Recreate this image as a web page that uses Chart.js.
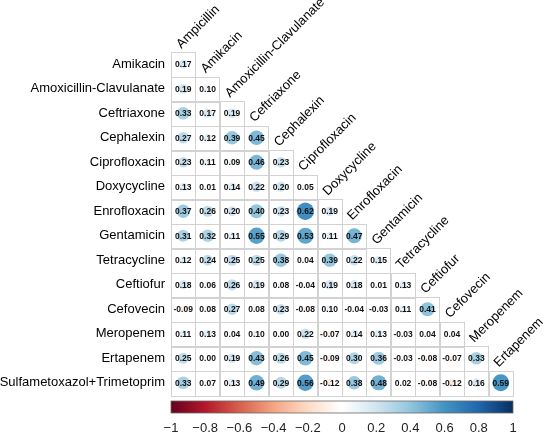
<!DOCTYPE html>
<html>
<head>
<meta charset="utf-8">
<title>Correlation matrix</title>
<script src="https://cdn.jsdelivr.net/npm/chart.js@4.4.0/dist/chart.umd.min.js"></script>
<style>
html, body { margin: 0; padding: 0; background: #fff; }
#wrap { width: 550px; height: 436px; position: relative; }
</style>
</head>
<body>
<div id="wrap"><canvas id="corrChart"></canvas></div>
<script>
// labels
const rowLabels = ['Amikacin', 'Amoxicillin-Clavulanate', 'Ceftriaxone', 'Cephalexin', 'Ciprofloxacin',
    'Doxycycline', 'Enrofloxacin', 'Gentamicin', 'Tetracycline', 'Ceftiofur', 'Cefovecin',
    'Meropenem', 'Ertapenem', 'Sulfametoxazol+Trimetoprim'];
const colLabels = ['Ampicillin', 'Amikacin', 'Amoxicillin-Clavulanate', 'Ceftriaxone', 'Cephalexin',
    'Ciprofloxacin', 'Doxycycline', 'Enrofloxacin', 'Gentamicin', 'Tetracycline', 'Ceftiofur',
    'Cefovecin', 'Meropenem', 'Ertapenem'];

// lower triangle, one array per row
const rAmikacin = [0.17];
const rAmoxClav = [0.19, 0.10];
const rCeftriaxone = [0.33, 0.17, 0.19];
const rCephalexin = [0.27, 0.12, 0.39, 0.45];
const rCipro = [0.23, 0.11, 0.09, 0.46, 0.23];
const rDoxy = [0.13, 0.01, 0.14, 0.22, 0.20, 0.05];
const rEnro = [0.37, 0.26, 0.20, 0.40, 0.23, 0.62, 0.19];
const rGenta = [0.31, 0.32, 0.11, 0.55, 0.29, 0.53, 0.11, 0.47];
const rTetra = [0.12, 0.24, 0.25, 0.25, 0.38, 0.04, 0.39, 0.22, 0.15];
const rCeftiofur = [0.18, 0.06, 0.26, 0.19, 0.08, -0.04, 0.19, 0.18, 0.01, 0.13];
const rCefovecin = [-0.09, 0.08, 0.27, 0.08, 0.23, -0.08, 0.10, -0.04, -0.03, 0.11, 0.41];
const rMeropenem = [0.11, 0.13, 0.04, 0.10, 0.00, 0.22, -0.07, 0.14, 0.13, -0.03, 0.04, 0.04];
const rErtapenem = [0.25, 0.00, 0.19, 0.43, 0.26, 0.45, -0.09, 0.30, 0.36, -0.03, -0.08, -0.07, 0.33];
const rSulfaTmp = [0.33, 0.07, 0.13, 0.49, 0.29, 0.56, -0.12, 0.38, 0.48, 0.02, -0.08, -0.12, 0.16, 0.59];

const corrRows = [rAmikacin, rAmoxClav, rCeftriaxone, rCephalexin, rCipro, rDoxy, rEnro,
    rGenta, rTetra, rCeftiofur, rCefovecin, rMeropenem, rErtapenem, rSulfaTmp];

const barTicks = [-1, -0.8, -0.6, -0.4, -0.2, 0, 0.2, 0.4, 0.6, 0.8, 1];

// RdBu palette like corrplot
const rdbu = ['#67001F', '#B2182B', '#D6604D', '#F4A582', '#FDDBC7', '#FFFFFF',
    '#D1E5F0', '#92C5DE', '#4393C3', '#2166AC', '#053061'];

function hexToRgb(h) {
    return [parseInt(h.slice(1, 3), 16), parseInt(h.slice(3, 5), 16), parseInt(h.slice(5, 7), 16)];
}

function corrColor(v) {
    const t = (Math.max(-1, Math.min(1, v)) + 1) / 2 * (rdbu.length - 1);
    const i = Math.min(Math.floor(t), rdbu.length - 2);
    const f = t - i;
    const a = hexToRgb(rdbu[i]), b = hexToRgb(rdbu[i + 1]);
    const c = a.map((x, k) => Math.round(x + (b[k] - x) * f));
    return 'rgb(' + c.join(',') + ')';
}

const points = [];
corrRows.forEach((row, i) => {
    row.forEach((v, j) => {
        points.push({ x: j + 0.5, y: i + 0.5, v: v });
    });
});

function cellSize(chart) {
    const s = chart.scales.x;
    return s.getPixelForValue(1) - s.getPixelForValue(0);
}

const corrPlugin = {
    id: 'corrPlot',
    beforeDatasetsDraw(chart) {
        const ctx = chart.ctx, xs = chart.scales.x, ys = chart.scales.y;
        ctx.save();
        ctx.strokeStyle = '#d2d2d2';
        ctx.lineWidth = 1;
        corrRows.forEach((row, i) => {
            row.forEach((v, j) => {
                const x0 = xs.getPixelForValue(j), x1 = xs.getPixelForValue(j + 1);
                const y0 = ys.getPixelForValue(i), y1 = ys.getPixelForValue(i + 1);
                ctx.strokeRect(Math.round(x0) + 0.5, Math.round(y0) + 0.5,
                    Math.round(x1 - x0), Math.round(y1 - y0));
            });
        });
        ctx.restore();
    },
    afterDatasetsDraw(chart) {
        const ctx = chart.ctx, xs = chart.scales.x, ys = chart.scales.y;
        ctx.save();

        // coefficients
        ctx.font = 'bold 8.5px "Liberation Sans", Arial, sans-serif';
        ctx.fillStyle = '#111';
        ctx.textAlign = 'center';
        ctx.textBaseline = 'middle';
        points.forEach(p => {
            ctx.fillText(p.v.toFixed(2), xs.getPixelForValue(p.x), ys.getPixelForValue(p.y) + 0.5);
        });

        // row labels
        ctx.font = '13px "Liberation Sans", Arial, sans-serif';
        ctx.fillStyle = '#000';
        ctx.textAlign = 'right';
        rowLabels.forEach((lab, i) => {
            ctx.fillText(lab, xs.getPixelForValue(0) - 6, ys.getPixelForValue(i + 0.5));
        });

        // column labels, rotated
        ctx.textAlign = 'left';
        ctx.textBaseline = 'alphabetic';
        colLabels.forEach((lab, j) => {
            const px = xs.getPixelForValue(j + 0.5) - 2;
            const py = ys.getPixelForValue(j) - 3;
            ctx.save();
            ctx.translate(px, py);
            ctx.rotate(-Math.PI / 4);
            ctx.fillText(lab, 0, 0);
            ctx.restore();
        });

        // colour bar
        const n = colLabels.length;
        const barX = v => xs.getPixelForValue((v + 1) / 2 * n);
        const left = barX(-1), right = barX(1);
        const top = ys.getPixelForValue(n) + 6, h = 12;
        const grad = ctx.createLinearGradient(left, 0, right, 0);
        rdbu.forEach((c, k) => grad.addColorStop(k / (rdbu.length - 1), c));
        ctx.fillStyle = grad;
        ctx.fillRect(left, top, right - left, h);
        ctx.strokeStyle = '#666';
        ctx.lineWidth = 0.8;
        ctx.strokeRect(left, top, right - left, h);

        ctx.fillStyle = '#222';
        ctx.font = '13px "Liberation Sans", Arial, sans-serif';
        ctx.textAlign = 'center';
        ctx.textBaseline = 'middle';
        barTicks.forEach(t => {
            const txt = (t < 0 ? '\u2212' : '') + String(Math.abs(t));
            ctx.fillText(txt, barX(t), top + h + 15);
        });
        ctx.restore();
    }
};

const corrChart = new Chart('corrChart', {
    type: 'scatter',
    data: {
        datasets: [{
            data: points,
            showLine: false,
            pointBackgroundColor: c => corrColor(c.raw ? c.raw.v : 0),
            pointBorderWidth: 0,
            pointBorderColor: 'rgba(0,0,0,0)',
            pointRadius: c => c.raw ? 0.45 * Math.sqrt(Math.abs(c.raw.v)) * cellSize(c.chart) : 0,
            pointHoverRadius: 0
        }]
    },
    options: {
        responsive: true,
        maintainAspectRatio: false,
        animation: false,
        events: [],
        layout: { padding: { top: 52, left: 171, right: 37, bottom: 41 } },
        scales: {
            x: { type: 'linear', min: 0, max: 14, display: false },
            y: { type: 'linear', min: 0, max: 14, reverse: true, display: false }
        },
        plugins: {
            legend: { display: false },
            tooltip: { enabled: false }
        }
    },
    plugins: [corrPlugin]
});
</script>
</body>
</html>
